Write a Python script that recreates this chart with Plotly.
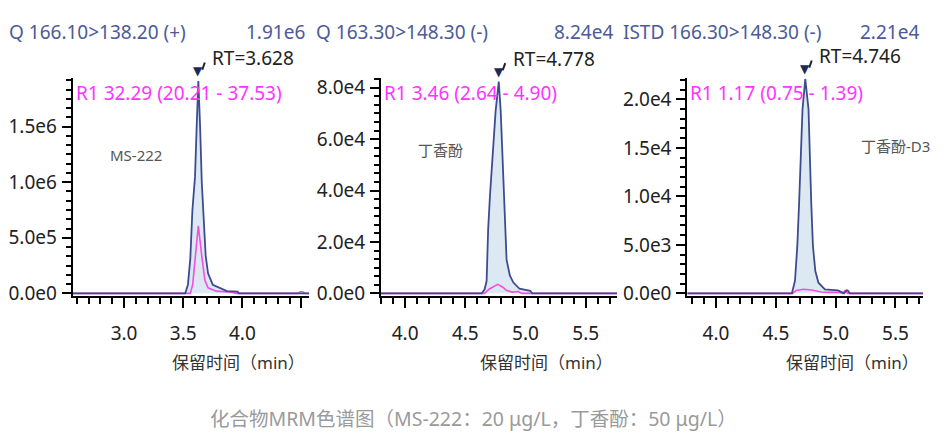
import plotly.graph_objects as go

# MS-222 (Q 166.10>138.20)
t_ms222 = [2.566, 3.517, 3.54, 3.56, 3.578, 3.60, 3.614, 3.628, 3.643, 3.657, 3.677,
           3.69, 3.71, 3.75, 3.87, 3.96, 3.97, 4.566]
y_ms222 = [0, 0, 7.8e4, 3.1e5, 7.5e5, 1.05e6, 1.5e6, 1.91e6, 1.5e6, 1.0e6, 6.0e5,
           3.4e5, 1.8e5, 7.8e4, 2.0e4, 1.5e4, 0, 0]
t_ms222_r = [2.566, 3.56, 3.58, 3.60, 3.628, 3.66, 3.683, 3.71, 3.78, 3.91, 3.95,
             4.47, 4.49, 4.51, 4.53, 4.566]
y_ms222_r = [0, 0, 7.8e4, 3.1e5, 6.08e5, 3.1e5, 1.2e5, 5.0e4, 2.0e4, 1.0e4, 0,
             0, 1.5e4, 1.5e4, 0, 0]

# 丁香酚 (Q 163.30>148.30)
t_eug = [3.80, 4.636, 4.66, 4.677, 4.69, 4.705, 4.752, 4.778, 4.794, 4.818, 4.83,
         4.843, 4.87, 4.898, 4.95, 5.04, 5.055, 5.76]
y_eug = [0, 0, 1.5e3, 4.8e3, 2.5e4, 3.8e4, 7.1e4, 8.24e4, 7.1e4, 3.9e4, 2.5e4,
         1.3e4, 7.0e3, 4.3e3, 1.8e3, 1.0e3, 0, 0]
t_eug_r = [3.80, 4.66, 4.70, 4.77, 4.815, 4.84, 4.89, 4.94, 4.97, 5.76]
y_eug_r = [0, 0, 1.7e3, 3.5e3, 2.3e3, 1.2e3, 5e2, 7e2, 0, 0]

# 丁香酚-D3 (ISTD 166.30>148.30)
t_d3 = [3.76, 4.634, 4.66, 4.68, 4.695, 4.723, 4.746, 4.773, 4.796, 4.81, 4.83,
        4.856, 4.91, 5.02, 5.07, 5.09, 5.10, 5.12, 5.73]
y_d3 = [0, 0, 1.3e3, 5.0e3, 9.5e3, 1.9e4, 2.21e4, 1.9e4, 9.3e3, 4.9e3, 2.3e3,
        1.1e3, 4e2, 3e2, 0, 3e2, 3e2, 0, 0]
t_d3_r = [3.76, 4.64, 4.67, 4.73, 4.80, 4.88, 4.95, 5.03, 5.06, 5.08, 5.10, 5.73]
y_d3_r = [0, 0, 3e2, 4.3e2, 3.5e2, 1.5e2, 1e2, 1e2, 0, 3e2, 0, 0]

titulos = ["Q 166.10>138.20 (+)", "Q 163.30>148.30 (-)", "ISTD 166.30>148.30 (-)"]
maximos = ["1.91e6", "8.24e4", "2.21e4"]
rt = [3.628, 4.778, 4.746]
picos = [1.91e6, 8.24e4, 2.21e4]
ratios = ["R1 32.29 (20.21 - 37.53)", "R1 3.46 (2.64 - 4.90)", "R1 1.17 (0.75 - 1.39)"]
compuestos = ["MS-222", "丁香酚", "丁香酚-D3"]

xtick_vals = [[3.0, 3.5, 4.0, 4.5], [4.0, 4.5, 5.0, 5.5], [4.0, 4.5, 5.0, 5.5]]
xtick_text = [["3.0", "3.5", "4.0", ""], ["4.0", "4.5", "5.0", "5.5"], ["4.0", "4.5", "5.0", "5.5"]]
ytick_vals = [[0, 5e5, 1e6, 1.5e6], [0, 2e4, 4e4, 6e4, 8e4], [0, 5e3, 1e4, 1.5e4, 2e4]]
ytick_text = [["0.0e0", "5.0e5", "1.0e6", "1.5e6"],
              ["0.0e0", "2.0e4", "4.0e4", "6.0e4", "8.0e4"],
              ["0.0e0", "5.0e3", "1.0e4", "1.5e4", "2.0e4"]]
titulo_x = "保留时间（min）"
pie = "化合物MRM色谱图（MS-222：20 μg/L，丁香酚：50 μg/L）"

series = [(t_ms222, y_ms222, t_ms222_r, y_ms222_r),
          (t_eug, y_eug, t_eug_r, y_eug_r),
          (t_d3, y_d3, t_d3_r, y_d3_r)]

# ---- geometria (pixeles de la imagen 946x436) ----
W, H = 946, 436
def fx(p):
    return p / W
def fy(p):
    return 1 - p / H

dom_x = [(72.7, 309.3), (381, 617), (687.3, 923)]
rango_x = [(2.566, 4.566), (3.80, 5.76), (3.76, 5.73)]
rango_y = [(-1.92e4, 1.94e6), (-830, 8.39e4), (-220, 2.223e4)]
minor_y = [5e5 / 6, 2e4 / 6, 1e3]
dom_y = (fy(301.5), fy(77))
titulo_izq = [7, 313.5, 621]

AZUL = "#3e4c8e"
RELLENO = "#dce9f3"
ROSA = "#f54ee0"
MAGENTA = "#ff33ff"
TITULO = "#4b5a98"
FUENTE = "Noto Sans, Noto Sans CJK SC, sans-serif"

fig = go.Figure()
anot = []

for i in range(3):
    xa = "x" if i == 0 else "x%d" % (i + 1)
    ya = "y" if i == 0 else "y%d" % (i + 1)
    t, y, tr, yr = series[i]
    fig.add_trace(go.Scatter(x=t, y=y, xaxis=xa, yaxis=ya, mode="lines", fill="tozeroy",
                             fillcolor=RELLENO, line=dict(width=0), hoverinfo="skip"))
    fig.add_trace(go.Scatter(x=tr, y=yr, xaxis=xa, yaxis=ya, mode="lines",
                             line=dict(color=ROSA, width=1.6)))
    fig.add_trace(go.Scatter(x=t, y=y, xaxis=xa, yaxis=ya, mode="lines",
                             line=dict(color=AZUL, width=1.8)))

    eje = dict(
        domain=[fx(dom_x[i][0]), fx(dom_x[i][1])], range=list(rango_x[i]),
        anchor=ya, showline=True, linecolor="black", linewidth=2,
        ticks="outside", ticklen=10, tickwidth=2, tickcolor="black",
        tickvals=xtick_vals[i], ticktext=xtick_text[i], ticklabelstandoff=10,
        tickfont=dict(size=19, color="#222"), showgrid=False, zeroline=False,
        minor=dict(dtick=0.1, tick0=0, ticks="outside", ticklen=6, tickwidth=1.5,
                   tickcolor="black", showgrid=False),
    )
    ejey = dict(
        domain=list(dom_y), range=list(rango_y[i]), anchor=xa,
        showline=True, linecolor="black", linewidth=2,
        ticks="outside", ticklen=9, tickwidth=2, tickcolor="black",
        tickvals=ytick_vals[i], ticktext=ytick_text[i], ticklabelstandoff=1,
        tickfont=dict(size=19, color="#222"), showgrid=False, zeroline=False,
        minor=dict(dtick=minor_y[i], tick0=0, ticks="outside", ticklen=5, tickwidth=1.5,
                   tickcolor="black", showgrid=False),
    )
    fig.update_layout({("xaxis" if i == 0 else "xaxis%d" % (i + 1)): eje,
                       ("yaxis" if i == 0 else "yaxis%d" % (i + 1)): ejey})

    x0, x1 = dom_x[i]
    # titulo del canal y maximo
    anot.append(dict(text=titulos[i], xref="paper", yref="paper", x=fx(titulo_izq[i]),
                     y=fy(30), xanchor="left", yanchor="middle", showarrow=False,
                     font=dict(size=19, color=TITULO)))
    anot.append(dict(text=maximos[i], xref="paper", yref="paper", x=fx(x1 - 2), y=fy(30),
                     xanchor="right", yanchor="middle", showarrow=False,
                     font=dict(size=19, color=TITULO)))
    # ratio R1
    anot.append(dict(text=ratios[i], xref="paper", yref="paper", x=fx(x0 + 1), y=fy(93),
                     xanchor="left", yanchor="middle", showarrow=False,
                     font=dict(size=19, color=MAGENTA)))
    # RT: marca, trazo y texto
    anot.append(dict(text="▼", xref=xa, yref=ya, x=rt[i], y=picos[i], xanchor="center",
                     yanchor="bottom", yshift=1, showarrow=False,
                     font=dict(family="DejaVu Sans", size=12, color="#1b2a5c")))
    anot.append(dict(text="", xref=xa, yref=ya, x=rt[i], y=picos[i], showarrow=True,
                     ax=7, ay=-20, arrowhead=0, arrowwidth=2, arrowcolor="#222", standoff=12))
    anot.append(dict(text="RT=%.3f" % rt[i], xref=xa, yref=ya, x=rt[i], y=picos[i],
                     xanchor="left", yanchor="middle", xshift=12, yshift=23, showarrow=False,
                     font=dict(size=19, color="#222")))
    # titulo eje x
    anot.append(dict(text=titulo_x, xref="paper", yref="paper", x=fx(x1 - 2), y=fy(371),
                     xanchor="right", yanchor="middle", showarrow=False,
                     font=dict(size=17, color="#333")))

# nombres de compuestos
for nombre, px, py in zip(compuestos, [136, 440, 895], [157, 152, 147]):
    anot.append(dict(text=nombre, xref="paper", yref="paper", x=fx(px), y=fy(py),
                     xanchor="center", yanchor="middle", showarrow=False,
                     font=dict(size=15, color="#555")))

anot.append(dict(text=pie, xref="paper", yref="paper", x=fx(473), y=fy(428),
                 xanchor="center", yanchor="middle", showarrow=False,
                 font=dict(size=19.5, color="#9a9a9a")))

fig.update_layout(
    width=W, height=H, autosize=False,
    margin=dict(l=0, r=0, t=0, b=0),
    paper_bgcolor="white", plot_bgcolor="white",
    showlegend=False, font=dict(family=FUENTE),
    annotations=anot,
)

fig.write_html("out.html", config={"displayModeBar": False},
               post_script="document.body.style.margin='0';")
